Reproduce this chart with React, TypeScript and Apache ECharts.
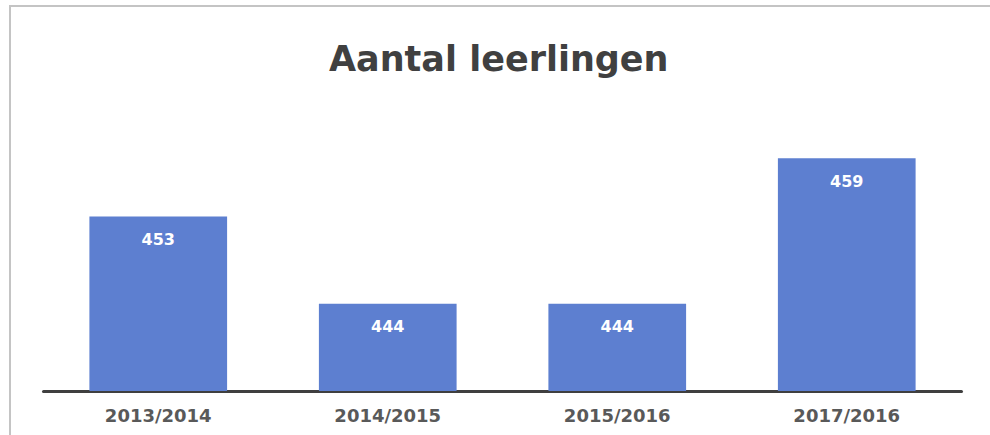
import React, { useEffect, useRef } from "react";
import * as echarts from "echarts";

const categories = ["2013/2014", "2014/2015", "2015/2016", "2017/2016"];
const leerlingen = [453, 444, 444, 459];
const titleText = "Aantal leerlingen";

export default function App() {
  const ref = useRef<HTMLDivElement>(null);
  useEffect(() => {
    if (!ref.current) return;
    const chart = echarts.init(ref.current, null, { renderer: "svg" });
    chart.setOption({
      animation: false,
      backgroundColor: "#ffffff",
      title: {
        text: titleText,
        left: 329,
        top: 41,
        padding: 0,
        textStyle: {
          fontFamily: "DejaVu Sans",
          fontWeight: "bold",
          fontSize: 35,
          color: "#404040",
        },
      },
      graphic: [
        {
          type: "rect",
          shape: { x: 10, y: 6, width: 1200, height: 1000 },
          style: { fill: "none", stroke: "#c4c4c4", lineWidth: 2 },
          silent: true,
        },
      ],
      grid: { left: 43.5, right: 28.5, top: 148.5, bottom: 44 },
      xAxis: {
        type: "category",
        data: categories,
        axisLine: { show: true, lineStyle: { color: "#3f3f3f", width: 3 } },
        axisTick: { show: false },
        axisLabel: {
          margin: 15,
          fontFamily: "DejaVu Sans",
          fontWeight: "bold",
          fontSize: 18,
          color: "#595959",
        },
      },
      yAxis: {
        type: "value",
        min: 435,
        max: 460,
        show: false,
        splitLine: { show: false },
      },
      series: [
        {
          type: "bar",
          data: leerlingen,
          barCategoryGap: "40%",
          itemStyle: { color: "#5d7fd0" },
          label: {
            show: true,
            position: "insideTop",
            distance: 15,
            fontFamily: "DejaVu Sans",
            fontWeight: "bold",
            fontSize: 16,
            color: "#ffffff",
          },
        },
      ],
    });
    return () => chart.dispose();
  }, []);
  return (
    <div
      ref={ref}
      style={{ position: "fixed", left: 0, top: 0, width: 990, height: 435 }}
    />
  );
}
